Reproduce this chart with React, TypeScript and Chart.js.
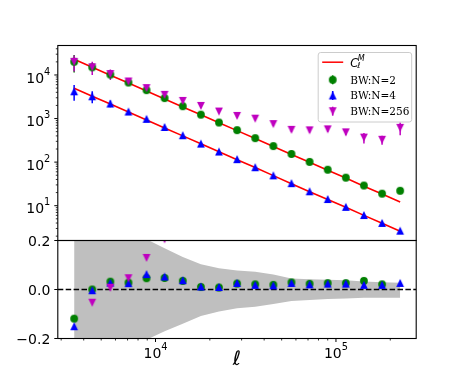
import React, { useEffect, useRef } from "react";
import { Chart, registerables } from "chart.js";

Chart.register(...registerables);

// ---------------- data ----------------
const ell = [3540, 4460, 5620, 7080, 8920, 11230, 14160, 17840, 22480, 28320, 35690, 44980, 56670, 71410, 89990, 113400, 142900, 180100, 226900];

const modelN2 = [22860, 15030, 9890, 6510, 4290, 2820, 1850, 1220, 803, 528, 348, 229, 150, 99, 65, 43, 28, 18.5, 12.2];
const modelN4 = [4970, 3260, 2150, 1410, 927, 609, 400, 263, 173, 114, 75, 49, 32, 21, 13.9, 9.2, 6.0, 3.95, 2.6];

const clN2 = [20100, 15000, 10200, 6700, 4480, 2950, 1920, 1230, 810, 541, 355, 233, 154, 101, 67, 44, 29, 18.9, 22];
const errN2 = [8700, 3000, 900, 400, 200, 100, 60, 30, 15, 8, 5, 3, 2, 1, 0.7, 0.5, 0.3, 0.2, 0.3];

const clN4 = [4220, 3250, 2210, 1450, 985, 641, 415, 266, 175, 117, 76.4, 49.8, 32.9, 21.4, 14.2, 9.4, 6.1, 4.03, 2.67];
const errN4 = [1650, 1000, 400, 150, 60, 30, 15, 8, 4, 2, 1, 0.6, 0.4, 0.2, 0.15, 0.1, 0.06, 0.04, 0.03];

const clN256 = [20000, 15000, 10500, 7100, 5000, 3500, 2540, 1950, 1450, 1150, 995, 745, 551, 537, 566, 483, 366, 326, 612];
const errN256 = [8000, 5000, 2800, 1200, 600, 350, 200, 150, 100, 80, 80, 70, 60, 60, 70, 70, 100, 76, 200];

const resN2 = [-0.119, 0.0, 0.032, 0.028, 0.046, 0.047, 0.035, 0.01, 0.008, 0.024, 0.021, 0.019, 0.029, 0.023, 0.026, 0.026, 0.035, 0.021, 0.8];
const resN4 = [-0.15, -0.003, 0.028, 0.026, 0.063, 0.053, 0.038, 0.012, 0.01, 0.027, 0.019, 0.017, 0.027, 0.021, 0.024, 0.024, 0.019, 0.019, 0.027];
const resN256 = [-0.215, -0.054, 0.007, 0.046, 0.129, 0.205, 0.37, 0.6, 0.8, 1.2, 1.86, 2.25, 2.67, 4.4, 7.7, 10.2, 12, 16.6, 49];

const bandUpper = [0.9, 0.7, 0.5, 0.32, 0.205, 0.168, 0.133, 0.103, 0.087, 0.078, 0.072, 0.061, 0.045, 0.042, 0.04, 0.038, 0.033, 0.03, 0.028];
const bandLower = [-0.9, -0.7, -0.5, -0.32, -0.205, -0.17, -0.14, -0.108, -0.09, -0.077, -0.07, -0.059, -0.047, -0.043, -0.039, -0.037, -0.034, -0.034, -0.034];

const xTickValues = [10000, 100000];
const xTickExps = ["4", "5"];
const yTopTickValues = [10, 100, 1000, 10000];
const yTopTickExps = ["1", "2", "3", "4"];
const yResTickValues = [-0.2, 0, 0.2];
const yResTickLabels = ["\u22120.2", "0.0", "0.2"];
const legendLabels = ["BW:N=2", "BW:N=4", "BW:N=256"];
const xAxisLabel = "\u2113";

const X_MIN = 2874;
const X_MAX = 278400;
const Y_TOP_MIN = 1.589;
const Y_TOP_MAX = 47500;
const Y_RES_MIN = -0.2;
const Y_RES_MAX = 0.2;

// ---------------- styles ----------------
const GREEN = "#008000";
const BLUE = "#0000ff";
const MAGENTA = "#bf00bf";
const RED = "#ff0000";
const BAND = "#bfbfbf";

const W = 463;
const H = 381;
const LEFT = 57.8;
const RIGHT = 416.2;
const TOP = 45.5;
const MID = 240.5;
const BOTTOM = 338.5;

const SANS = '"DejaVu Sans", sans-serif';
const SERIF = '"DejaVu Serif", serif';

type Kind = "circle" | "up" | "down";
function makeMarker(kind: Kind, color: string): HTMLCanvasElement {
  const c = document.createElement("canvas");
  c.width = 10;
  c.height = 10;
  const g = c.getContext("2d")!;
  g.fillStyle = color;
  const cx = 5, cy = 5, r = 3.9;
  g.beginPath();
  if (kind === "circle") g.arc(cx, cy, r, 0, Math.PI * 2);
  else if (kind === "up") {
    g.moveTo(cx, cy - r);
    g.lineTo(cx + r, cy + r);
    g.lineTo(cx - r, cy + r);
    g.closePath();
  } else {
    g.moveTo(cx, cy + r);
    g.lineTo(cx + r, cy - r);
    g.lineTo(cx - r, cy - r);
    g.closePath();
  }
  g.fill();
  return c;
}

const pts = (ys: number[]) => ell.map((x, i) => ({ x, y: ys[i] }));

function supLabel(ctx: CanvasRenderingContext2D, base: string, exp: string, x: number, y: number, align: "right" | "center") {
  const big = `14px ${SANS}`;
  const small = `9.8px ${SANS}`;
  ctx.font = big;
  const wb = ctx.measureText(base).width;
  ctx.font = small;
  const we = ctx.measureText(exp).width;
  const total = wb + we;
  const x0 = align === "right" ? x - total : x - total / 2;
  ctx.textAlign = "left";
  ctx.textBaseline = "alphabetic";
  ctx.fillStyle = "#000";
  ctx.font = big;
  ctx.fillText(base, x0, y);
  ctx.font = small;
  ctx.fillText(exp, x0 + wb, y - 8);
}

function tick(ctx: CanvasRenderingContext2D, x1: number, y1: number, x2: number, y2: number, w: number) {
  ctx.lineWidth = w;
  ctx.beginPath();
  ctx.moveTo(x1, y1);
  ctx.lineTo(x2, y2);
  ctx.stroke();
}

export default function App() {
  const topRef = useRef<HTMLCanvasElement>(null);
  const botRef = useRef<HTMLCanvasElement>(null);

  useEffect(() => {
    const mCircle = makeMarker("circle", GREEN);
    const mUp = makeMarker("up", BLUE);
    const mDown = makeMarker("down", MAGENTA);

    const errorBars = {
      id: "errorBars",
      beforeDatasetsDraw(chart: any) {
        const { ctx, chartArea: a } = chart;
        const xs = chart.scales.x, ys = chart.scales.y;
        ctx.save();
        ctx.beginPath();
        ctx.rect(a.left, a.top, a.right - a.left, a.bottom - a.top);
        ctx.clip();
        ctx.lineWidth = 1.5;
        const sets: [number[], number[], string][] = [
          [clN2, errN2, GREEN],
          [clN4, errN4, BLUE],
          [clN256, errN256, MAGENTA],
        ];
        for (const [vals, errs, col] of sets) {
          ctx.strokeStyle = col;
          vals.forEach((v, i) => {
            const px = xs.getPixelForValue(ell[i]);
            const lo = Math.max(v - errs[i], ys.min);
            const y1 = ys.getPixelForValue(v + errs[i]);
            const y2 = ys.getPixelForValue(lo);
            ctx.beginPath();
            ctx.moveTo(px, y1);
            ctx.lineTo(px, y2);
            ctx.stroke();
          });
        }
        ctx.restore();
      },
    };

    const topAxes = {
      id: "topAxes",
      afterDraw(chart: any) {
        const { ctx, chartArea: a } = chart;
        const ys = chart.scales.y;
        ctx.save();
        ctx.strokeStyle = "#000";
        for (let e = 0; e <= 5; e++) {
          for (let m = 2; m <= 9; m++) {
            const v = m * Math.pow(10, e);
            if (v < ys.min || v > ys.max) continue;
            const py = ys.getPixelForValue(v);
            tick(ctx, a.left - 2, py, a.left, py, 0.8);
          }
        }
        yTopTickValues.forEach((v, i) => {
          const py = ys.getPixelForValue(v);
          tick(ctx, a.left - 3.5, py, a.left, py, 1);
          supLabel(ctx, "10", yTopTickExps[i], a.left - 7.5, py + 7.8, "right");
        });
        ctx.lineWidth = 1.1;
        ctx.strokeRect(a.left, a.top, a.right - a.left, a.bottom - a.top);

        // legend
        const bx = a.right - 98, by = a.top + 7, bw = 93.5, bh = 69.5, r = 2.5;
        ctx.beginPath();
        ctx.moveTo(bx + r, by);
        ctx.arcTo(bx + bw, by, bx + bw, by + bh, r);
        ctx.arcTo(bx + bw, by + bh, bx, by + bh, r);
        ctx.arcTo(bx, by + bh, bx, by, r);
        ctx.arcTo(bx, by, bx + bw, by, r);
        ctx.closePath();
        ctx.fillStyle = "rgba(255,255,255,0.8)";
        ctx.fill();
        ctx.strokeStyle = "#cccccc";
        ctx.lineWidth = 1;
        ctx.stroke();

        const hx = bx + 14.5; // handle centre
        const tx = bx + 32; // text start
        const rowY = [by + 9.7, by + 27.3, by + 43, by + 58.7];
        // model line
        ctx.strokeStyle = RED;
        ctx.lineWidth = 1.5;
        ctx.beginPath();
        ctx.moveTo(hx - 10.5, rowY[0]);
        ctx.lineTo(hx + 10.5, rowY[0]);
        ctx.stroke();
        ctx.fillStyle = "#000";
        ctx.textAlign = "left";
        ctx.textBaseline = "alphabetic";
        ctx.font = `italic 11.5px ${SANS}`;
        ctx.fillText("C", tx, rowY[0] + 4.3);
        const cw = ctx.measureText("C").width;
        ctx.font = `italic 8px ${SANS}`;
        ctx.fillText("M", tx + cw - 0.5, rowY[0] - 1.5);
        ctx.fillText("\u2113", tx + cw - 1, rowY[0] + 5.6);

        const marks: [HTMLCanvasElement, string][] = [
          [mCircle, GREEN],
          [mUp, BLUE],
          [mDown, MAGENTA],
        ];
        marks.forEach(([img, col], i) => {
          const yy = rowY[i + 1];
          ctx.strokeStyle = col;
          ctx.lineWidth = 1.5;
          ctx.beginPath();
          ctx.moveTo(hx, yy - 4.5);
          ctx.lineTo(hx, yy + 4.5);
          ctx.stroke();
          ctx.drawImage(img, hx - 5, yy - 5);
          ctx.fillStyle = "#000";
          ctx.font = `10.5px ${SERIF}`;
          ctx.fillText(legendLabels[i], tx, yy + 3.9);
        });
        ctx.restore();
      },
    };

    const botAxes = {
      id: "botAxes",
      afterDraw(chart: any) {
        const { ctx, chartArea: a } = chart;
        const xs = chart.scales.x, ys = chart.scales.y;
        ctx.save();
        ctx.strokeStyle = "#000";
        for (let e = 3; e <= 5; e++) {
          for (let m = 2; m <= 9; m++) {
            const v = m * Math.pow(10, e);
            if (v < xs.min || v > xs.max) continue;
            const px = xs.getPixelForValue(v);
            tick(ctx, px, a.bottom, px, a.bottom + 2, 0.8);
          }
        }
        xTickValues.forEach((v, i) => {
          const px = xs.getPixelForValue(v);
          tick(ctx, px, a.bottom, px, a.bottom + 3.5, 1);
          supLabel(ctx, "10", xTickExps[i], px, a.bottom + 19, "center");
        });
        yResTickValues.forEach((v, i) => {
          const py = ys.getPixelForValue(v);
          tick(ctx, a.left - 3.5, py, a.left, py, 1);
          ctx.fillStyle = "#000";
          ctx.font = `14px ${SANS}`;
          ctx.textAlign = "right";
          ctx.textBaseline = "alphabetic";
          ctx.fillText(yResTickLabels[i], a.left - 7.5, py + 5.2);
        });
        ctx.lineWidth = 1.1;
        ctx.strokeRect(a.left, a.top, a.right - a.left, a.bottom - a.top);
        ctx.font = `italic 20px ${SANS}`;
        ctx.textAlign = "center";
        ctx.fillText(xAxisLabel, (a.left + a.right) / 2, a.bottom + 26.5);
        ctx.restore();
      },
    };

    const common = {
      animation: false as const,
      responsive: false,
      maintainAspectRatio: false,
      events: [] as any[],
    };

    const top = new Chart(topRef.current!, {
      type: "scatter",
      data: {
        datasets: [
          { label: "BW:N=256", data: pts(clN256), pointStyle: mDown as any, pointRadius: 4, showLine: false },
          { label: "BW:N=4", data: pts(clN4), pointStyle: mUp as any, pointRadius: 4, showLine: false },
          { label: "BW:N=2", data: pts(clN2), pointStyle: mCircle as any, pointRadius: 4, showLine: false },
          { label: "C_l^M N=4", data: pts(modelN4), showLine: true, borderColor: RED, borderWidth: 1.6, pointRadius: 0 },
          { label: "C_l^M N=2", data: pts(modelN2), showLine: true, borderColor: RED, borderWidth: 1.6, pointRadius: 0 },
        ] as any,
      },
      options: {
        ...common,
        layout: { padding: { left: LEFT, right: W - RIGHT, top: TOP, bottom: H - MID } },
        plugins: { legend: { display: false }, tooltip: { enabled: false } },
        scales: {
          x: { type: "logarithmic", min: X_MIN, max: X_MAX, display: false },
          y: { type: "logarithmic", min: Y_TOP_MIN, max: Y_TOP_MAX, display: false },
        },
      } as any,
      plugins: [errorBars, topAxes],
    });

    const bot = new Chart(botRef.current!, {
      type: "scatter",
      data: {
        datasets: [
          { label: "res N=256", data: pts(resN256), pointStyle: mDown as any, pointRadius: 4, showLine: false },
          { label: "res N=4", data: pts(resN4), pointStyle: mUp as any, pointRadius: 4, showLine: false },
          { label: "res N=2", data: pts(resN2), pointStyle: mCircle as any, pointRadius: 4, showLine: false },
          {
            label: "zero",
            data: [{ x: X_MIN, y: 0 }, { x: X_MAX, y: 0 }],
            showLine: true,
            borderColor: "#000",
            borderWidth: 1.5,
            borderDash: [5.5, 2.4],
            pointRadius: 0,
          },
          {
            label: "band upper",
            data: pts(bandUpper),
            showLine: true,
            borderColor: "rgba(0,0,0,0)",
            borderWidth: 0,
            pointRadius: 0,
            backgroundColor: BAND,
            fill: "+1",
          },
          {
            label: "band lower",
            data: pts(bandLower),
            showLine: true,
            borderColor: "rgba(0,0,0,0)",
            borderWidth: 0,
            pointRadius: 0,
          },
        ] as any,
      },
      options: {
        ...common,
        layout: { padding: { left: LEFT, right: W - RIGHT, top: MID, bottom: H - BOTTOM } },
        plugins: { legend: { display: false }, tooltip: { enabled: false } },
        scales: {
          x: { type: "logarithmic", min: X_MIN, max: X_MAX, display: false },
          y: { type: "linear", min: Y_RES_MIN, max: Y_RES_MAX, display: false },
        },
      } as any,
      plugins: [botAxes],
    });

    return () => {
      top.destroy();
      bot.destroy();
    };
  }, []);

  const cstyle: React.CSSProperties = { position: "absolute", left: 0, top: 0, width: W, height: H };
  return (
    <div style={{ position: "absolute", left: 0, top: 0, width: W, height: H, background: "#fff" }}>
      <canvas ref={botRef} width={W} height={H} style={cstyle} />
      <canvas ref={topRef} width={W} height={H} style={cstyle} />
    </div>
  );
}
